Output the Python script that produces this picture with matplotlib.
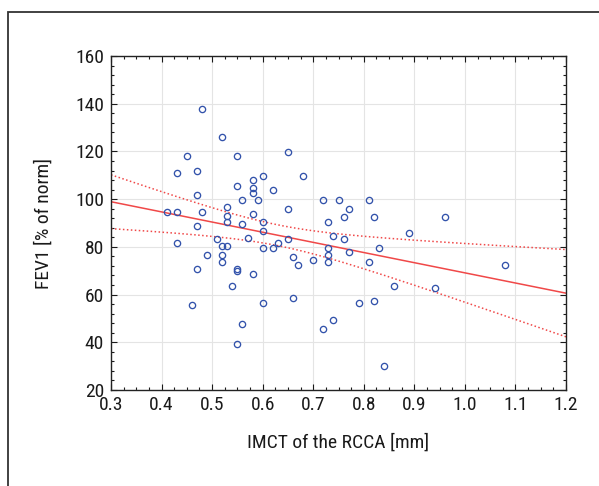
#!/usr/bin/env python
"""Scatter of FEV1 vs IMCT of the RCCA with linear fit and 95% CI bands."""
import numpy as np
import matplotlib
matplotlib.use("Agg")
import matplotlib.pyplot as plt
from matplotlib import font_manager
from matplotlib.patches import Rectangle
from matplotlib.ticker import MultipleLocator

# values
imct = [0.41, 0.43, 0.43, 0.45, 0.43, 0.47, 0.47, 0.48, 0.48, 0.47,
        0.47, 0.46, 0.49, 0.51, 0.52, 0.52, 0.52, 0.52, 0.53, 0.53,
        0.53, 0.53, 0.54, 0.55, 0.55, 0.55, 0.55, 0.55, 0.56, 0.56,
        0.56, 0.57, 0.58, 0.58, 0.58, 0.58, 0.58, 0.59, 0.60, 0.60,
        0.60, 0.60, 0.60, 0.62, 0.62, 0.63, 0.65, 0.65, 0.65, 0.66,
        0.66, 0.67, 0.68, 0.70, 0.72, 0.72, 0.73, 0.73, 0.73, 0.73,
        0.74, 0.74, 0.75, 0.76, 0.76, 0.77, 0.77, 0.79, 0.81, 0.81,
        0.82, 0.82, 0.83, 0.84, 0.86, 0.89, 0.94, 0.96, 1.08]
fev1 = [94.6, 94.6, 111.0, 118.0, 81.6, 111.8, 101.6, 137.9, 94.6, 88.7,
        70.6, 55.5, 76.4, 83.3, 125.9, 80.5, 76.4, 73.6, 96.7, 92.8,
        90.5, 80.5, 63.6, 118.0, 105.6, 70.8, 69.7, 39.3, 99.8, 89.6,
        47.5, 83.8, 107.9, 104.8, 102.6, 93.6, 68.5, 99.8, 109.6, 90.5,
        86.8, 79.5, 56.5, 103.8, 79.5, 81.6, 119.8, 95.9, 83.3, 75.6,
        58.7, 72.5, 109.7, 74.6, 99.8, 45.5, 90.5, 79.6, 76.4, 73.8,
        84.7, 49.4, 99.8, 92.6, 83.4, 95.7, 77.7, 56.5, 99.8, 73.8,
        92.6, 57.4, 79.6, 29.9, 63.7, 85.6, 62.9, 92.6, 72.4]
x_ticks = [0.3, 0.4, 0.5, 0.6, 0.7, 0.8, 0.9, 1.0, 1.1, 1.2]
x_tick_labels = ["0.3", "0.4", "0.5", "0.6", "0.7", "0.8", "0.9", "1.0", "1.1", "1.2"]
y_ticks = [20, 40, 60, 80, 100, 120, 140, 160]
t_crit = 1.991  # t(0.975, n-2)


def _pick_font():
    """Find a narrow face, the reference uses a condensed font."""
    fonts = font_manager.fontManager.ttflist
    names = {f.name for f in fonts}
    for name in ["Liberation Sans Narrow", "Roboto Condensed",
                 "Open Sans Condensed", "DejaVu Sans Condensed"]:
        if name in names:
            return name, "normal", 14
    for fam in ["DejaVu Sans", "Roboto", "Open Sans", "Noto Sans"]:
        for f in fonts:
            if f.name == fam and str(f.stretch) in ("condensed", "semi-condensed", "extra-condensed"):
                return fam, f.stretch, 13.5
    return "Liberation Sans", "normal", 12


font_name, font_stretch, fsize = _pick_font()
plt.rcParams["font.family"] = [font_name, "DejaVu Sans"]
plt.rcParams["font.stretch"] = font_stretch

x = np.array(imct)
y = np.array(fev1)
n = len(x)
slope, intercept = np.polyfit(x, y, 1)
resid = y - (slope * x + intercept)
s = np.sqrt(np.sum(resid ** 2) / (n - 2))
sxx = np.sum((x - x.mean()) ** 2)

xs = np.linspace(0.3, 1.2, 200)
fit = slope * xs + intercept
half = t_crit * s * np.sqrt(1 / n + (xs - x.mean()) ** 2 / sxx)

fig = plt.figure(figsize=(5.99, 4.86), dpi=100)
fig.patches.append(Rectangle((8 / 599, -0.05), 1.0, 1 - 12 / 486 + 0.05,
                             transform=fig.transFigure, fill=False,
                             edgecolor="#333333", linewidth=1.3))
ax = fig.add_axes([111 / 599, 1 - 390 / 486, 455 / 599, 334 / 486])

ax.grid(True, color="#e4e4e4", linewidth=0.8)
ax.set_axisbelow(True)
red = "#f04848"
ax.plot(xs, fit, color=red, linewidth=1.1)
ax.plot(xs, fit + half, color=red, linewidth=1.1, linestyle=(0, (1.0, 1.6)))
ax.plot(xs, fit - half, color=red, linewidth=1.1, linestyle=(0, (1.0, 1.6)))
ax.plot(x, y, linestyle="none", marker="o", markersize=4.5,
        markerfacecolor="none", markeredgecolor="#3353ab", markeredgewidth=0.95)

ax.set_xlim(0.3, 1.2)
ax.set_ylim(20, 160)
ax.set_xticks(x_ticks)
ax.set_xticklabels(x_tick_labels)
ax.set_yticks(y_ticks)
ax.xaxis.set_minor_locator(MultipleLocator(0.025))
ax.yaxis.set_minor_locator(MultipleLocator(4))
ax.tick_params(which="both", direction="in", top=True, right=True,
               labelsize=fsize, colors="#1a1a1a")
ax.tick_params(axis="x", pad=4)
ax.tick_params(axis="y", pad=5)
ax.tick_params(which="major", length=4, width=0.8)
ax.tick_params(which="minor", length=2.5, width=0.8)
for sp in ax.spines.values():
    sp.set_color("#222222")
    sp.set_linewidth(1.0)

ax.set_xlabel("IMCT of the RCCA [mm]", fontsize=fsize, labelpad=14, color="#1a1a1a")
ax.set_ylabel("FEV1 [% of norm]", fontsize=fsize, labelpad=16, color="#1a1a1a")

fig.savefig("out.png", dpi=100)
